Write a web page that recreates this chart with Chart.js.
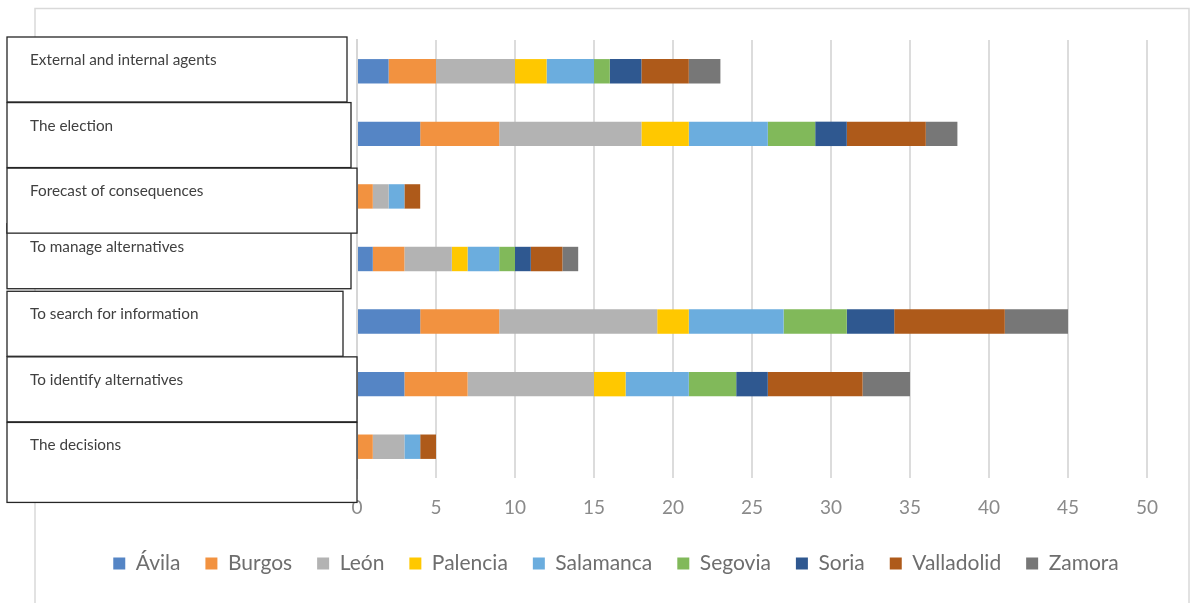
<!DOCTYPE html>
<html>
<head>
<meta charset="utf-8">
<script src="https://cdn.jsdelivr.net/npm/chart.js@4.4.1/dist/chart.umd.min.js"></script>
<style>
  html, body { margin: 0; padding: 0; background: #fff; }
  #wrap { position: relative; width: 1197px; height: 603px; }
</style>
</head>
<body>
<div id="wrap"><canvas id="stages"></canvas></div>
<script>
// Decision-making stages and number of mentions per province
const categories = [
    'External and internal agents',
    'The election',
    'Forecast of consequences',
    'To manage alternatives',
    'To search for information',
    'To identify alternatives',
    'The decisions'
];
const provinces = ['Ávila', 'Burgos', 'León', 'Palencia', 'Salamanca', 'Segovia', 'Soria', 'Valladolid', 'Zamora'];

const avila      = [2, 4, 0, 1, 4, 3, 0];
const burgos     = [3, 5, 1, 2, 5, 4, 1];
const leon       = [5, 9, 1, 3, 10, 8, 2];
const palencia   = [2, 3, 0, 1, 2, 2, 0];
const salamanca  = [3, 5, 1, 2, 6, 4, 1];
const segovia    = [1, 3, 0, 1, 4, 3, 0];
const soria      = [2, 2, 0, 1, 3, 2, 0];
const valladolid = [3, 5, 1, 2, 7, 6, 1];
const zamora     = [2, 2, 0, 1, 4, 3, 0];

const xTicks = [0, 5, 10, 15, 20, 25, 30, 35, 40, 45, 50];

const seriesValues = [avila, burgos, leon, palencia, salamanca, segovia, soria, valladolid, zamora];
const colors = ['#5585c5', '#f29240', '#b3b3b3', '#ffc800', '#6badde', '#81b95a', '#2f5890', '#ae5a1a', '#777777'];

// label boxes on the left: right edge and small vertical nudge for each box
const boxRight = [347, 351, 357, 351, 343, 357, 357];
const boxNudge = [-3, 0, 3, -4, 1, 4, 7];
const boxDrawOrder = [0, 1, 3, 2, 4, 5, 6];

const labelBoxes = {
    id: 'labelBoxes',
    afterDraw(chart) {
        const ctx = chart.ctx;
        const y = chart.scales.y;
        const band = y.getPixelForValue(1) - y.getPixelForValue(0);
        ctx.save();
        // outer frame of the chart
        ctx.strokeStyle = '#d9d9d9';
        ctx.lineWidth = 1.5;
        ctx.strokeRect(35, 8.5, 1154, 600);

        boxDrawOrder.forEach(i => {
            const top = y.getPixelForValue(i) - band / 2 + boxNudge[i];
            const h = i === categories.length - 1 ? 80 : 65;
            ctx.fillStyle = '#ffffff';
            ctx.fillRect(7, top, boxRight[i] - 7, h);
            ctx.strokeStyle = '#262626';
            ctx.lineWidth = 1.3;
            ctx.strokeRect(7, top, boxRight[i] - 7, h);
            ctx.fillStyle = '#404040';
            ctx.font = '15.3px Lato';
            ctx.textBaseline = 'middle';
            ctx.fillText(categories[i], 30, top + 23);
        });
        ctx.restore();
    }
};

const ctx = document.getElementById('stages').getContext('2d');
new Chart(ctx, {
    type: 'bar',
    data: {
        labels: categories,
        datasets: provinces.map((name, i) => ({
            label: name,
            data: seriesValues[i],
            backgroundColor: colors[i],
            borderWidth: 0,
            barPercentage: 0.39,
            categoryPercentage: 1
        }))
    },
    options: {
        indexAxis: 'y',
        responsive: true,
        maintainAspectRatio: false,
        animation: false,
        layout: { padding: { left: 35, right: 0, top: 40, bottom: 19 } },
        scales: {
            x: {
                stacked: true,
                min: 0,
                max: 50,
                afterBuildTicks: s => { s.ticks = xTicks.map(v => ({ value: v })); },
                afterFit: s => { s.height = 50; },
                ticks: { color: '#8a8a8a', font: { family: 'Lato', size: 19 }, padding: 18 },
                grid: { color: '#dcdcdc', lineWidth: 2, drawTicks: false },
                border: { display: false }
            },
            y: {
                stacked: true,
                afterFit: s => { s.width = 322; },
                ticks: { display: false },
                grid: { display: false, drawTicks: false },
                border: { color: '#d6d6d6', width: 2 }
            },
            // empty right-hand axis, only keeps space on the right of the plot
            yRight: {
                type: 'category',
                position: 'right',
                afterFit: s => { s.width = 50; },
                ticks: { display: false },
                grid: { display: false, drawTicks: false },
                border: { display: false }
            }
        },
        plugins: {
            legend: {
                position: 'bottom',
                labels: {
                    boxWidth: 12,
                    boxHeight: 12,
                    padding: 25,
                    color: '#6e6e6e',
                    font: { family: 'Lato', size: 21 }
                }
            },
            tooltip: { enabled: false }
        }
    },
    plugins: [labelBoxes]
});
</script>
</body>
</html>
